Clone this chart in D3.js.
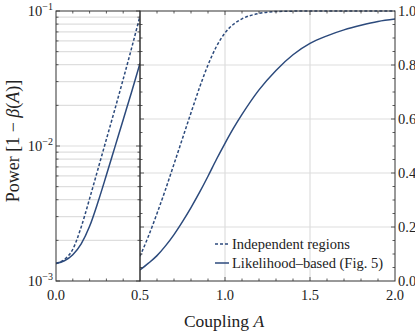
<!DOCTYPE html>
<html><head><meta charset="utf-8">
<script src="https://cdn.jsdelivr.net/npm/d3@7"></script>
</head>
<body style="margin:0;background:#fff;font-family:'Liberation Serif',serif">
<script>
// Coupling values
const coupling = [0,0.05,0.1,0.15,0.2,0.25,0.3,0.35,0.4,0.45,0.5,0.55,0.6,0.65,0.7,0.75,0.8,0.85,0.9,0.95,1.0,1.05,1.1,1.2,1.3,1.4,1.5,1.6,1.7,1.8,1.9,2.0];
// Power, independent regions (dashed)
const independent = [0.00135,0.001445,0.001718,0.002512,0.004074,0.006761,0.01122,0.01862,0.03126,0.05309,0.092,0.1665,0.25,0.339,0.433,0.528,0.623,0.716,0.80,0.869,0.919,0.951,0.971,0.991,0.998,0.9995,1.0,1.0,1.0,1.0,1.0,1.0];
// Power, likelihood-based (solid)
const likelihood = [0.00135,0.001413,0.001567,0.001884,0.002541,0.003846,0.006095,0.009772,0.01567,0.02512,0.041,0.066,0.094,0.13,0.172,0.22,0.272,0.328,0.388,0.451,0.51,0.566,0.617,0.708,0.78,0.838,0.88,0.908,0.93,0.947,0.961,0.97];
const seriesNames = ["Independent regions","Likelihood\u2013based (Fig. 5)"];
const xTicksLeft = [0.0,0.5], xTicksRight=[0.5,1.0,1.5,2.0];
const yTicksRight = [0.0,0.2,0.4,0.6,0.8,1.0];
const logMajor = [1e-3,1e-2,1e-1];

const W=415,H=332;
const color="#2c4a7c";
const FONT="Liberation Serif";
const svg=d3.select("body").append("svg").attr("width",W).attr("height",H).style("display","block");
const yTop=11,yBot=281;
const xL=d3.scaleLinear().domain([0,0.5]).range([56,140]);
const xR=d3.scaleLinear().domain([0.5,2.0]).range([140,395]);
const yL=d3.scaleLog().domain([1e-3,1e-1]).range([yBot,yTop]);
const yR=d3.scaleLinear().domain([0,1]).range([yBot,yTop]);
const grid="#dedede";

// minor log ticks
const logMinor=[];
for(const d of [1e-3,1e-2]) for(let k=1;k<=9;k++) logMinor.push(d*k);
logMinor.push(1e-1);

// grids
const gL=svg.append("g");
gL.selectAll("line").data(logMinor.filter(v=>v>1e-3&&v<1e-1)).join("line")
 .attr("x1",xL(0)).attr("x2",xL(0.5)).attr("y1",d=>yL(d)).attr("y2",d=>yL(d))
 .attr("stroke",grid).attr("stroke-width",1.2);
const gR=svg.append("g");
gR.selectAll("line.h").data([0.2,0.4,0.6,0.8]).join("line").attr("class","h")
 .attr("x1",xR(0.5)).attr("x2",xR(2)).attr("y1",d=>yR(d)).attr("y2",d=>yR(d))
 .attr("stroke",grid).attr("stroke-width",1.2);
gR.selectAll("line.v").data([1.0,1.5]).join("line").attr("class","v")
 .attr("y1",yR(0)).attr("y2",yR(1)).attr("x1",d=>xR(d)).attr("x2",d=>xR(d))
 .attr("stroke",grid).attr("stroke-width",1.2);

// data
const data=coupling.map((a,i)=>({a,ind:independent[i],lik:likelihood[i]}));
const left=data.filter(d=>d.a<=0.5), right=data.filter(d=>d.a>=0.5);
svg.append("clipPath").attr("id","cl").append("rect").attr("x",56).attr("y",yTop-1).attr("width",84).attr("height",yBot-yTop+2);
svg.append("clipPath").attr("id","cr").append("rect").attr("x",140).attr("y",yTop-2).attr("width",255).attr("height",yBot-yTop+3);
const lnL=k=>d3.line().x(d=>xL(d.a)).y(d=>yL(d[k])).curve(d3.curveMonotoneX);
const lnR=k=>d3.line().x(d=>xR(d.a)).y(d=>yR(d[k])).curve(d3.curveMonotoneX);
const pl=svg.append("g").attr("clip-path","url(#cl)");
const pr=svg.append("g").attr("clip-path","url(#cr)");
for(const [k,dash] of [["ind","3,2"],["lik",null]]){
  pl.append("path").datum(left).attr("d",lnL(k)).attr("fill","none").attr("stroke",color).attr("stroke-width",1.5).attr("stroke-dasharray",dash);
  pr.append("path").datum(right).attr("d",lnR(k)).attr("fill","none").attr("stroke",color).attr("stroke-width",1.5).attr("stroke-dasharray",dash);
}

// ticks
const tk=svg.append("g").attr("stroke","#333").attr("stroke-width",0.8);
function vt(x,len){ tk.append("line").attr("x1",x).attr("x2",x).attr("y1",yBot).attr("y2",yBot-len);
  tk.append("line").attr("x1",x).attr("x2",x).attr("y1",yTop).attr("y2",yTop+len);}
for(let i=1;i<5;i++) vt(xL(i/10),2.5);
for(let i=6;i<20;i++) { vt(xR(i/10), (i===10||i===15)?4:2.5); }
for(const v of logMinor){ const maj=logMajor.includes(v);
  const len=maj?4:2.5;
  tk.append("line").attr("x1",xL(0)).attr("x2",xL(0)+len).attr("y1",yL(v)).attr("y2",yL(v));
  tk.append("line").attr("x1",xL(0.5)).attr("x2",xL(0.5)-len).attr("y1",yL(v)).attr("y2",yL(v));
}
for(let i=1;i<20;i++){ const v=i*0.05; const maj=(i%4===0);
  const len=maj?4:2.5;
  tk.append("line").attr("x1",xR(2)).attr("x2",xR(2)-len).attr("y1",yR(v)).attr("y2",yR(v));
  tk.append("line").attr("x1",xR(0.5)).attr("x2",xR(0.5)+len).attr("y1",yR(v)).attr("y2",yR(v));
}
// frames
svg.append("rect").attr("x",xL(0)).attr("y",yTop).attr("width",xL(0.5)-xL(0)).attr("height",yBot-yTop).attr("fill","none").attr("stroke","#333").attr("stroke-width",1);
svg.append("rect").attr("x",xR(0.5)).attr("y",yTop).attr("width",xR(2)-xR(0.5)).attr("height",yBot-yTop).attr("fill","none").attr("stroke","#333").attr("stroke-width",1);

// helper: text with font set inline
function txt(sel){ return sel.append("text").style("font-family",FONT).attr("fill","#222"); }

const fs=14.5;
const fmt=d3.format(".1f");
xTicksLeft.forEach(d=>txt(svg).attr("x",xL(d)).attr("y",300).attr("text-anchor","middle").attr("font-size",fs).text(fmt(d)));
xTicksRight.slice(1).forEach(d=>txt(svg).attr("x",xR(d)).attr("y",300).attr("text-anchor","middle").attr("font-size",fs).text(fmt(d)));
yTicksRight.forEach(d=>txt(svg).attr("x",398).attr("y",yR(d)+4.5).attr("font-size",fs).text(fmt(d)));
logMajor.forEach(d=>{
  const t=txt(svg).attr("x",53).attr("y",yL(d)+5).attr("text-anchor","end").attr("font-size",fs);
  t.append("tspan").style("font-family",FONT).text("10");
  t.append("tspan").style("font-family",FONT).attr("dy",-6).attr("font-size",10).text("\u2212"+Math.round(-Math.log10(d)));
});

// axis titles
const xt=txt(svg).attr("x",224).attr("y",327).attr("text-anchor","middle").attr("font-size",17.5);
xt.append("tspan").style("font-family",FONT).text("Coupling ");
xt.append("tspan").style("font-family",FONT).attr("font-style","italic").text("A");
const yt=txt(svg).attr("transform","translate(19,141) rotate(-90)").attr("text-anchor","middle").attr("font-size",18);
[["Power [1 \u2212 ",null],["\u03b2","italic"],["(",null],["A","italic"],[")]",null]].forEach(([s,st])=>
  yt.append("tspan").style("font-family",FONT).attr("font-style",st).text(s));

// legend
[[244,"3,2"],[263,null]].forEach(([y,dash],i)=>{
  svg.append("line").attr("x1",215).attr("x2",229).attr("y1",y).attr("y2",y).attr("stroke",color).attr("stroke-width",1.5).attr("stroke-dasharray",dash);
  txt(svg).attr("x",232).attr("y",y+4.5).attr("font-size",fs).text(seriesNames[i]);
});
</script>
</body></html>
